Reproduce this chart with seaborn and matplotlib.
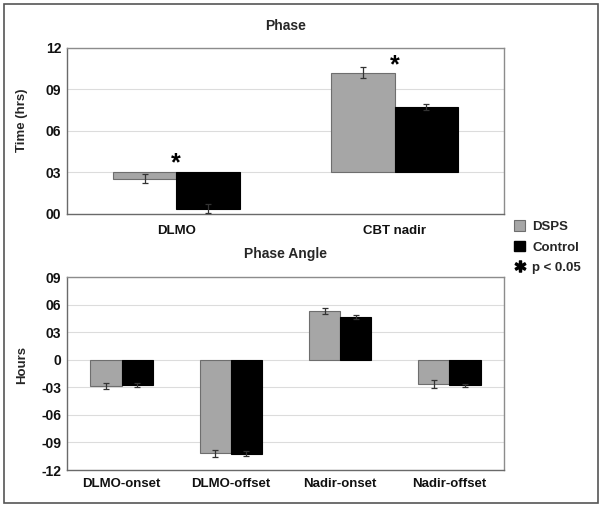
import numpy as np
import pandas as pd
import matplotlib
matplotlib.use("Agg")
import matplotlib.pyplot as plt
import seaborn as sns
from matplotlib.patches import Patch, Rectangle
from matplotlib.lines import Line2D

# ---------------- data ----------------
groups = ["DSPS", "Control"]

phase_cats = ["DLMO", "CBT nadir"]
phase_dsps = [2.54, 10.21]
phase_ctrl = [0.38, 7.71]
phase_dsps_sem = [0.33, 0.41]
phase_ctrl_sem = [0.34, 0.22]
phase_baseline = 3.0
phase_ticks = [0, 3, 6, 9, 12]
phase_ticklabels = ["00", "03", "06", "09", "12"]
phase_sig_y = [3.65, 10.75]

angle_cats = ["DLMO-onset", "DLMO-offset", "Nadir-onset", "Nadir-offset"]
angle_dsps = [-2.86, -10.19, 5.30, -2.65]
angle_ctrl = [-2.72, -10.23, 4.64, -2.76]
angle_dsps_sem = [0.35, 0.40, 0.35, 0.45]
angle_ctrl_sem = [0.20, 0.25, 0.20, 0.18]
angle_ticks = [-12, -9, -6, -3, 0, 3, 6, 9]
angle_ticklabels = ["-12", "-09", "-06", "-03", "0", "03", "06", "09"]

colors = {"DSPS": "#a6a6a6", "Control": "#000000"}
edges = {"DSPS": "#6e6e6e", "Control": "#000000"}

sns.set_style("white")
plt.rcParams["font.family"] = ["Liberation Sans", "DejaVu Sans"]
plt.rcParams["font.weight"] = "bold"

FS = 9.5
TFS = 10

W, H = 603, 507
fig = plt.figure(figsize=(W / 100, H / 100), dpi=100)

ax1 = fig.add_axes([67 / W, 1 - 214 / H, 437 / W, 166 / H])
ax2 = fig.add_axes([67 / W, 1 - 470 / H, 437 / W, 192.7 / H])


def long_df(cats, dsps, ctrl, offset=0.0):
    rows = []
    for c, v in zip(cats, dsps):
        rows.append({"cat": c, "group": "DSPS", "val": v - offset})
    for c, v in zip(cats, ctrl):
        rows.append({"cat": c, "group": "Control", "val": v - offset})
    return pd.DataFrame(rows)


def style_axes(ax, ticks, ticklabels, ylim, xpad):
    ax.set_ylim(*ylim)
    ax.set_yticks(ticks)
    ax.set_yticklabels(ticklabels)
    ax.grid(axis="y", color="#dcdcdc", linewidth=0.8, zorder=0)
    ax.grid(axis="x", visible=False)
    ax.set_axisbelow(True)
    for s in ax.spines.values():
        s.set_visible(True)
        s.set_color("#8c8c8c")
        s.set_linewidth(1.0)
    ax.spines["left"].set_color("#6a6a6a")
    ax.spines["bottom"].set_color("#6a6a6a")
    ax.tick_params(axis="both", length=0, labelsize=FS, colors="#111111")
    ax.tick_params(axis="y", labelsize=TFS, pad=4)
    ax.tick_params(axis="x", pad=xpad)
    for t in ax.get_xticklabels() + ax.get_yticklabels():
        t.set_fontweight("bold")
    ax.set_xlabel("")


def add_errors(ax, sems):
    for cont, sem, g in zip(ax.containers, sems, groups):
        for p, e in zip(cont.patches, sem):
            x = p.get_x() + p.get_width() / 2
            y = p.get_y() + p.get_height()
            ax.errorbar(x, y, yerr=e, fmt="none", ecolor="#333333",
                        elinewidth=0.9, capsize=2.5, capthick=0.9, zorder=5)


# ---------- top panel ----------
df1 = long_df(phase_cats, phase_dsps, phase_ctrl, phase_baseline)
sns.barplot(data=df1, x="cat", y="val", hue="group", hue_order=groups,
            palette=colors, width=0.58, errorbar=None, legend=False,
            bottom=phase_baseline, ax=ax1, zorder=3, linewidth=0.8)
for cont, g in zip(ax1.containers, groups):
    for p in cont.patches:
        p.set_edgecolor(edges[g])
add_errors(ax1, [phase_dsps_sem, phase_ctrl_sem])
style_axes(ax1, phase_ticks, phase_ticklabels, (0, 12), 8)
ax1.set_xlim(-0.5, 1.5)
ax1.set_title("Phase", fontsize=TFS, fontweight="bold", pad=13)
ax1.set_ylabel("Time (hrs)", fontsize=FS, fontweight="bold")
ax1.yaxis.set_label_coords(-0.089, 0.566)
for i, sy in enumerate(phase_sig_y):
    ax1.text(i, sy, "*", ha="center", va="center", fontsize=18,
             fontweight="bold", color="black", zorder=6)

# ---------- bottom panel ----------
df2 = long_df(angle_cats, angle_dsps, angle_ctrl)
sns.barplot(data=df2, x="cat", y="val", hue="group", hue_order=groups,
            palette=colors, width=0.57, errorbar=None, legend=False,
            ax=ax2, zorder=3, linewidth=0.8)
for cont, g in zip(ax2.containers, groups):
    for p in cont.patches:
        p.set_edgecolor(edges[g])
add_errors(ax2, [angle_dsps_sem, angle_ctrl_sem])
style_axes(ax2, angle_ticks, angle_ticklabels, (-12, 9), 6)
ax2.set_xlim(-0.5, 3.5)
ax2.set_title("Phase Angle", fontsize=TFS, fontweight="bold", pad=14)
ax2.set_ylabel("Hours", fontsize=FS, fontweight="bold")
ax2.yaxis.set_label_coords(-0.089, 0.545)

# ---------- legend ----------
handles = [
    Patch(facecolor=colors["DSPS"], edgecolor=edges["DSPS"], linewidth=0.8),
    Patch(facecolor=colors["Control"], edgecolor=edges["Control"]),
    Line2D([], [], marker=r"$\ast$", linestyle="none", color="black", markersize=8),
]
fig.legend(handles, ["DSPS", "Control", "p < 0.05"],
           loc="upper left", bbox_to_anchor=(514 / W, 1 - 220 / H),
           frameon=False, borderpad=0, borderaxespad=0,
           handlelength=0.85, handleheight=0.85, handletextpad=0.55,
           labelspacing=0.6, prop={"weight": "bold", "size": FS})

# outer border
fig.add_artist(Rectangle((4 / W, 4 / H), 594 / W, 499 / H, transform=fig.transFigure,
                         fill=False, edgecolor="#555555", linewidth=1.2))

fig.savefig("out.png", dpi=100)
